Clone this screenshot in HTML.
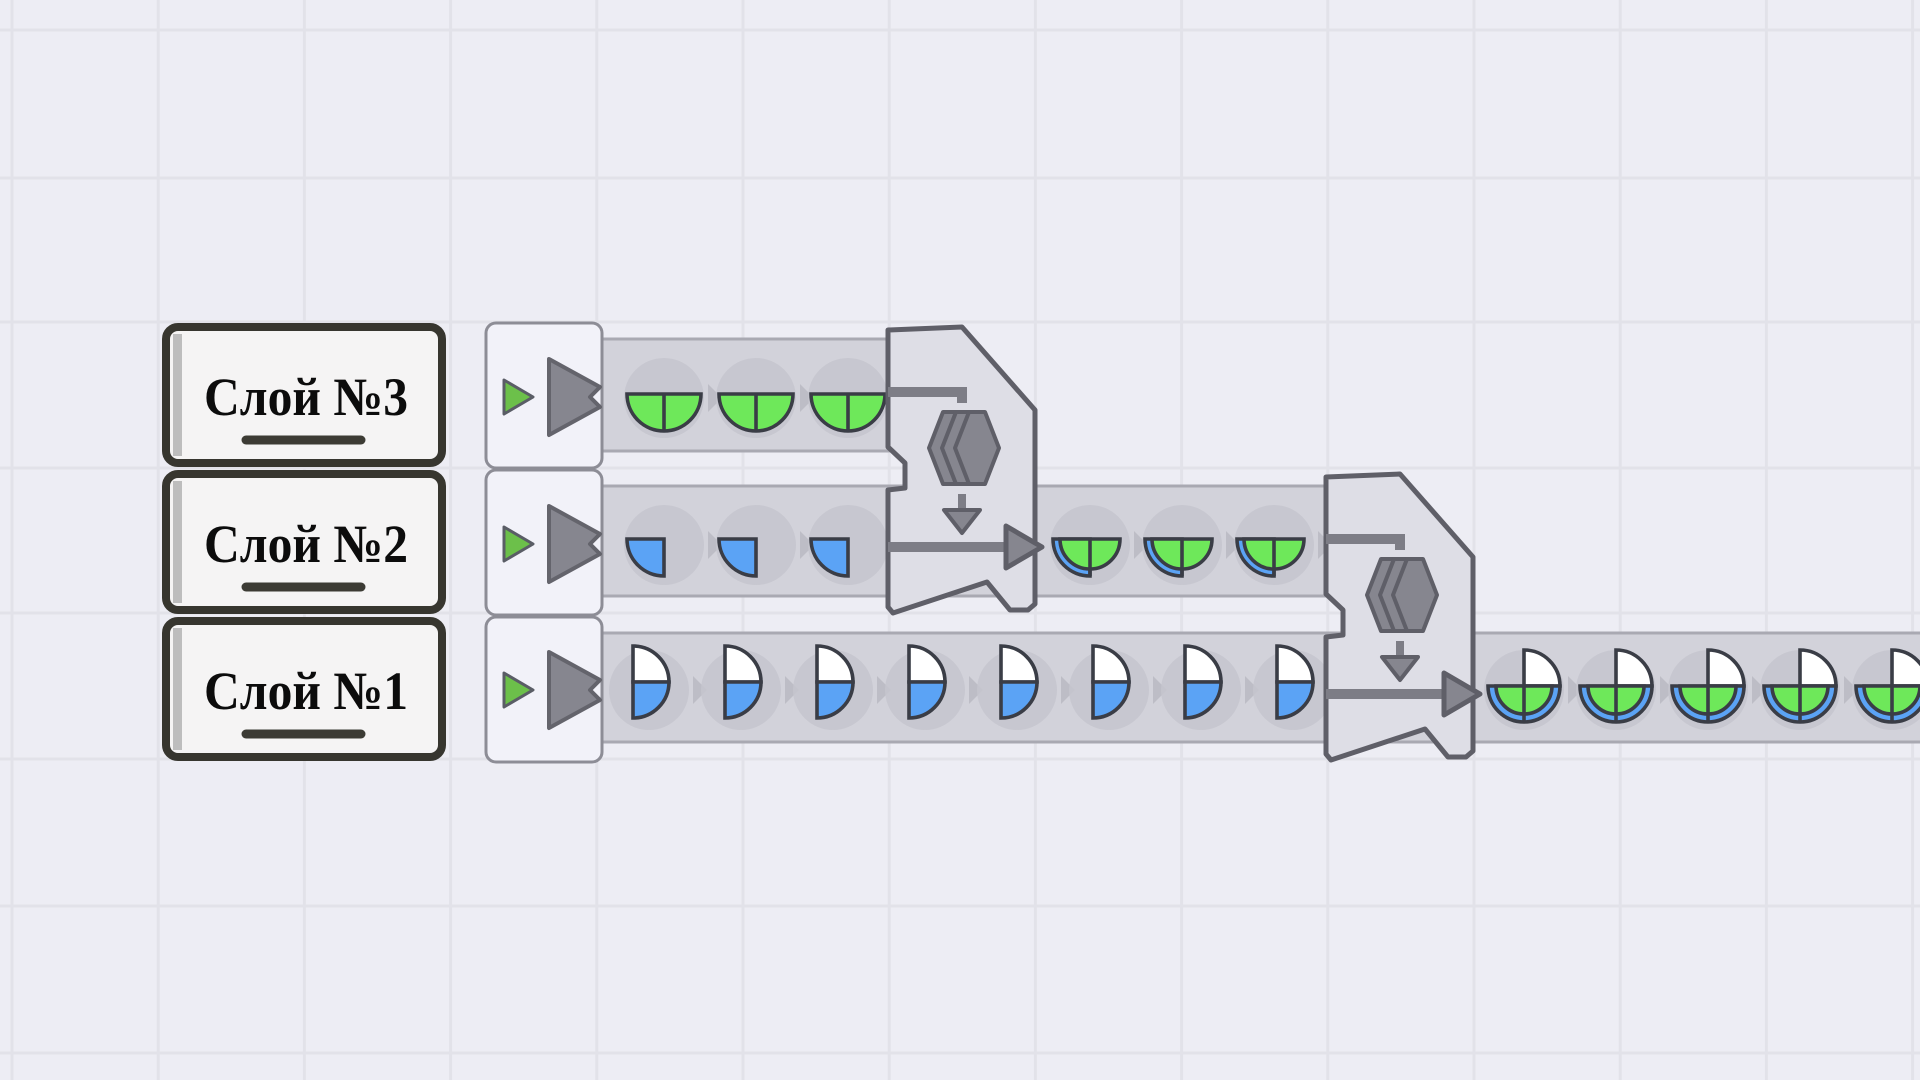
<!DOCTYPE html>
<html><head><meta charset="utf-8"><style>
html,body{margin:0;padding:0;width:1920px;height:1080px;overflow:hidden;background:#ededf4}
svg{display:block}
</style></head><body>
<svg id="s" width="1920" height="1080" viewBox="0 0 1920 1080" xmlns="http://www.w3.org/2000/svg">
<rect width="1920" height="1080" fill="#ededf4"/>
<g id="grid" stroke="#e2e2e9" stroke-width="3"></g>
<g id="belts"></g>
<g id="m"></g>
<g id="lab"></g>
</svg>
<script>
const NS="http://www.w3.org/2000/svg";
function el(parent,tag,attrs,text){const e=document.createElementNS(NS,tag);for(const k in attrs)e.setAttribute(k,attrs[k]);if(text)e.textContent=text;document.getElementById(parent).appendChild(e);return e;}
for(let x=12;x<1920;x+=146.2)el('grid','line',{x1:x,y1:0,x2:x,y2:1080});
[30,178,322,468,613,759,906,1053].forEach(y=>el('grid','line',{x1:0,y1:y,x2:1920,y2:y}));
const ST="#3a3d46",SW=3.6;
function belt(x1,x2,y1,y2){el('belts','rect',{x:x1,y:y1,width:x2-x1,height:y2-y1,fill:"#d2d2da",stroke:"#a9a9b2","stroke-width":3});}
belt(600,892,339,451);belt(600,1330,486,596);belt(600,1925,633,742);
function circ(cx,cy){el('belts','circle',{cx:cx,cy:cy,r:40,fill:"#c6c6ce",opacity:0.85});
 el('belts','polygon',{points:`${cx+44},${cy-14} ${cx+58},${cy} ${cx+44},${cy+14}`,fill:"#bdbdc6"});}
const G="#6ee85a",B="#5ba3f5",W="#ffffff";
function halfB(cx,cy,r,f){el('belts','path',{d:`M${cx-r},${cy} A${r} ${r} 0 0 0 ${cx+r},${cy} Z`,fill:f,stroke:ST,"stroke-width":SW});}
function qBL(cx,cy,r,f){el('belts','path',{d:`M${cx},${cy} L${cx},${cy+r} A${r} ${r} 0 0 1 ${cx-r},${cy} Z`,fill:f,stroke:ST,"stroke-width":SW});}
function qTR(cx,cy,r,f){el('belts','path',{d:`M${cx},${cy} L${cx},${cy-r} A${r} ${r} 0 0 1 ${cx+r},${cy} Z`,fill:f,stroke:ST,"stroke-width":SW});}
function qBR(cx,cy,r,f){el('belts','path',{d:`M${cx},${cy} L${cx+r},${cy} A${r} ${r} 0 0 1 ${cx},${cy+r} Z`,fill:f,stroke:ST,"stroke-width":SW});}
function vl(cx,cy,r){el('belts','line',{x1:cx,y1:cy,x2:cx,y2:cy+r,stroke:ST,"stroke-width":SW});}
[664,756,848].forEach(x=>{circ(x,398);halfB(x,394,37,G);vl(x,394,37);});
[664,756,848].forEach(x=>{circ(x,545);qBL(x,539,37,B);});
[649,741,833,925,1017,1109,1201,1293].forEach(x=>{circ(x,690);qTR(x-16,682,36,W);qBR(x-16,682,36,B);});
[1090,1182,1274].forEach(x=>{circ(x,545);qBL(x,539,37,B);halfB(x,539,30,G);vl(x,539,37);});
[1524,1616,1708,1800,1892].forEach(x=>{circ(x,690);qTR(x,686,36,W);halfB(x,686,36,B);halfB(x,686,28,G);vl(x,686,36);});
[[322,397],[469,544],[616,690]].forEach(([y,cy])=>{
 el('m','rect',{x:486,y:y+1,width:116,height:145,rx:10,fill:"#f2f2f9",stroke:"#8d8d96","stroke-width":3});
 el('m','polygon',{points:`504,${cy-17} 533,${cy} 504,${cy+17}`,fill:"#6cc04a",stroke:"#5a5d66","stroke-width":3,"stroke-linejoin":"round"});
 el('m','polygon',{points:`549,${cy-38} 600,${cy-10} 590,${cy} 600,${cy+10} 549,${cy+38}`,fill:"#86868f",stroke:"#64646c","stroke-width":4,"stroke-linejoin":"round"});
});
function merger(dx,dy){
 const p=[[888,330],[962,327],[1035,410],[1035,604],[1028,610],[1010,610],[987,582],[893,613],[888,607],[888,490],[905,488],[905,463],[888,447]];
 el('m','polygon',{points:p.map(q=>`${q[0]+dx},${q[1]+dy}`).join(' '),fill:"#dedee6",stroke:"#5f5f68","stroke-width":5,"stroke-linejoin":"round"});
 el('m','path',{d:`M${888+dx},${392+dy} L${962+dx},${392+dy} L${962+dx},${403+dy}`,fill:"none",stroke:"#7d7d86","stroke-width":10});
 [-26,-13,0].forEach(o=>{const cx=977+dx+o,cy=448+dy;
  el('m','polygon',{points:`${cx-22},${cy} ${cx-8},${cy-36} ${cx+8},${cy-36} ${cx+22},${cy} ${cx+8},${cy+36} ${cx-8},${cy+36}`,fill:"#86868f",stroke:"#5f5f68","stroke-width":4,"stroke-linejoin":"round"});});
 el('m','line',{x1:962+dx,y1:494+dy,x2:962+dx,y2:512+dy,stroke:"#7d7d86","stroke-width":8});
 el('m','polygon',{points:`${944+dx},${510+dy} ${980+dx},${510+dy} ${962+dx},${533+dy}`,fill:"#86868f",stroke:"#5f5f68","stroke-width":4,"stroke-linejoin":"round"});
 el('m','line',{x1:888+dx,y1:547+dy,x2:1010+dx,y2:547+dy,stroke:"#7d7d86","stroke-width":10});
 el('m','polygon',{points:`${1006+dx},${526+dy} ${1042+dx},${547+dy} ${1006+dx},${568+dy}`,fill:"#86868f",stroke:"#5f5f68","stroke-width":5,"stroke-linejoin":"round"});
}
merger(0,0);merger(438,147);
[[324,"Слой №3"],[471,"Слой №2"],[618,"Слой №1"]].forEach(([y,t])=>{
 el('lab','rect',{x:166,y:y+3,width:276,height:136,rx:12,fill:"#f5f4f4",stroke:"#37362f","stroke-width":8});
 el('lab','rect',{x:173,y:y+10,width:9,height:122,fill:"#bdbdbd"});
 el('lab','text',{x:306,y:y+91,"text-anchor":"middle","font-family":"Liberation Serif, serif","font-weight":"bold","font-size":54,fill:"#0c0c0c",textLength:204,lengthAdjust:"spacingAndGlyphs"},t);
 el('lab','line',{x1:246,y1:y+116,x2:361,y2:y+116,stroke:"#3c3b34","stroke-width":9,"stroke-linecap":"round"});
});
</script>
</body></html>
